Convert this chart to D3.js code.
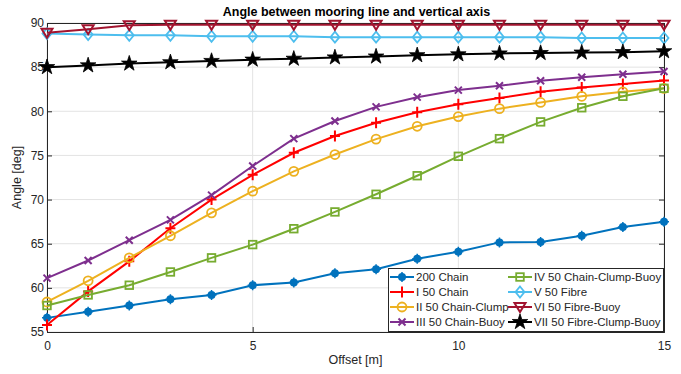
<!DOCTYPE html>
<html>
<head>
<meta charset="utf-8">
<script src="https://cdn.jsdelivr.net/npm/d3@7"></script>
<style>
  html, body { margin: 0; padding: 0; background: #fff; }
  svg text { font-family: "Liberation Sans", Arial, Helvetica, sans-serif; fill: #262626; }
</style>
</head>
<body>
<svg id="chart" width="681" height="374"></svg>
<script>
// Offset positions [m]
const offsets = [0, 1, 2, 3, 4, 5, 6, 7, 8, 9, 10, 11, 12, 13, 14, 15];

// Angle between mooring line and vertical axis [deg], one array per configuration
const chain200        = [56.6, 57.3, 58.0, 58.7, 59.2, 60.3, 60.6, 61.65, 62.1, 63.3, 64.1, 65.15, 65.2, 65.9, 66.9, 67.5];
const chain50         = [55.8, 59.6, 63.0, 66.75, 70.0, 72.8, 75.3, 77.2, 78.7, 79.9, 80.8, 81.5, 82.2, 82.7, 83.1, 83.5];
const chainClump50    = [58.4, 60.8, 63.4, 65.9, 68.5, 70.95, 73.2, 75.1, 76.85, 78.3, 79.4, 80.3, 81.0, 81.7, 82.2, 82.6];
const chainBuoy50     = [61.1, 63.1, 65.4, 67.7, 70.5, 73.8, 76.9, 78.9, 80.5, 81.6, 82.4, 82.9, 83.45, 83.85, 84.2, 84.5];
const chainClumpBuoy50= [58.0, 59.2, 60.3, 61.8, 63.4, 64.9, 66.7, 68.6, 70.6, 72.7, 74.9, 76.9, 78.8, 80.4, 81.7, 82.6];
const fibre50         = [88.8, 88.7, 88.6, 88.6, 88.5, 88.5, 88.5, 88.4, 88.4, 88.4, 88.4, 88.4, 88.4, 88.3, 88.3, 88.3];
const fibreBuoy50     = [88.9, 89.3, 89.75, 89.8, 89.8, 89.8, 89.8, 89.8, 89.8, 89.8, 89.8, 89.8, 89.8, 89.8, 89.8, 89.8];
const fibreClumpBuoy50= [85.0, 85.2, 85.4, 85.55, 85.7, 85.85, 85.95, 86.1, 86.2, 86.35, 86.45, 86.55, 86.6, 86.65, 86.7, 86.8];

const seriesNames = [
  "200 Chain", "I 50 Chain", "II 50 Chain-Clump", "III 50 Chain-Buoy",
  "IV 50 Chain-Clump-Buoy", "V 50 Fibre", "VI 50 Fibre-Buoy", "VII 50 Fibre-Clump-Buoy"
];
const seriesValues = [chain200, chain50, chainClump50, chainBuoy50, chainClumpBuoy50, fibre50, fibreBuoy50, fibreClumpBuoy50];
const seriesColors = ["#0072BD", "#FF0000", "#EDB120", "#7E2F8E", "#77AC30", "#4DBEEE", "#A2142F", "#000000"];
const seriesMarkers = ["dot", "plus", "circle", "cross", "square", "diamond", "triangleDown", "star"];

const xTicks = [0, 5, 10, 15];
const yTicks = [55, 60, 65, 70, 75, 80, 85, 90];

const titleText = "Angle between mooring line and vertical axis";
const xLabel = "Offset [m]";
const yLabel = "Angle [deg]";

const svg = d3.select("#chart");
const margin = { left: 47, top: 23, right: 681 - 664, bottom: 374 - 332 };
const W = 681, H = 374;
const x = d3.scaleLinear().domain([0, 15]).range([margin.left, W - margin.right]);
const y = d3.scaleLinear().domain([55, 90]).range([H - margin.bottom, margin.top]);

// grid
const grid = svg.append("g");
grid.selectAll("line.gx").data(xTicks).join("line")
  .attr("x1", d => x(d)).attr("x2", d => x(d))
  .attr("y1", y(55)).attr("y2", y(90))
  .attr("stroke", "#e3e3e3").attr("stroke-width", 1);
grid.selectAll("line.gy").data(yTicks).join("line")
  .attr("y1", d => y(d)).attr("y2", d => y(d))
  .attr("x1", x(0)).attr("x2", x(15))
  .attr("stroke", "#e3e3e3").attr("stroke-width", 1);

// axes (ticks pointing inward)
const xAxis = svg.append("g").attr("transform", `translate(0,${y(55)})`)
  .call(d3.axisBottom(x).tickValues(xTicks).tickSize(-5).tickPadding(9).tickFormat(d3.format("d")));
const yAxis = svg.append("g").attr("transform", `translate(${x(0)},0)`)
  .call(d3.axisLeft(y).tickValues(yTicks).tickSize(-5).tickPadding(3).tickFormat(d3.format("d")));
const xAxisTop = svg.append("g").attr("transform", `translate(0,${y(90)})`)
  .call(d3.axisTop(x).tickValues(xTicks).tickSize(-5).tickFormat(""));
const yAxisRight = svg.append("g").attr("transform", `translate(${x(15)},0)`)
  .call(d3.axisRight(y).tickValues(yTicks).tickSize(-5).tickFormat(""));
[xAxis, yAxis].forEach(g => {
  g.selectAll("path, line").attr("stroke", "#262626");
  g.selectAll("text").style("font-size", "12px").attr("fill", "#262626");
});
[xAxisTop, yAxisRight].forEach(g => {
  g.selectAll("path, line").attr("stroke", "#262626");
});

// series lines
const line = d3.line().x((d, i) => x(offsets[i])).y(d => y(d));
const plot = svg.append("g");

function drawMarker(g, type, color, cx, cy) {
  switch (type) {
    case "dot":
      g.append("circle").attr("cx", cx).attr("cy", cy).attr("r", 4).attr("fill", color);
      g.append("path").attr("d", `M${cx - 5},${cy}H${cx + 5}M${cx},${cy - 5}V${cy + 5}`)
        .attr("stroke", color).attr("stroke-width", 1.5);
      break;
    case "plus":
      g.append("path").attr("d", `M${cx - 5},${cy}H${cx + 5}M${cx},${cy - 5.5}V${cy + 5.5}`)
        .attr("stroke", color).attr("stroke-width", 2).attr("fill", "none");
      break;
    case "circle":
      g.append("circle").attr("cx", cx).attr("cy", cy).attr("r", 4.5)
        .attr("fill", "none").attr("stroke", color).attr("stroke-width", 1.8);
      break;
    case "cross":
      g.append("path").attr("d", `M${cx - 3.5},${cy - 3.5}L${cx + 3.5},${cy + 3.5}M${cx - 3.5},${cy + 3.5}L${cx + 3.5},${cy - 3.5}`)
        .attr("stroke", color).attr("stroke-width", 2).attr("fill", "none");
      break;
    case "square":
      g.append("rect").attr("x", cx - 3.8).attr("y", cy - 3.8).attr("width", 7.6).attr("height", 7.6)
        .attr("fill", "none").attr("stroke", color).attr("stroke-width", 1.8);
      break;
    case "diamond":
      g.append("path").attr("d", `M${cx},${cy - 5.5}L${cx + 4.5},${cy}L${cx},${cy + 5.5}L${cx - 4.5},${cy}Z`)
        .attr("fill", "none").attr("stroke", color).attr("stroke-width", 1.8);
      break;
    case "triangleDown":
      g.append("path").attr("d", `M${cx - 5.5},${cy - 4}L${cx + 5.5},${cy - 4}L${cx},${cy + 5}Z`)
        .attr("fill", "none").attr("stroke", color).attr("stroke-width", 2);
      break;
    case "star":
      g.append("path").attr("d", d3.symbol().type(d3.symbolStar).size(75)())
        .attr("transform", `translate(${cx},${cy})`).attr("fill", color).attr("stroke", color).attr("stroke-width", 0.8);
      break;
  }
}

seriesValues.forEach((vals, k) => {
  const g = plot.append("g");
  g.append("path").datum(vals).attr("d", line)
    .attr("fill", "none").attr("stroke", seriesColors[k]).attr("stroke-width", 2);
  vals.forEach((v, i) => drawMarker(g, seriesMarkers[k], seriesColors[k], x(offsets[i]), y(v)));
});

// titles
svg.append("text").attr("x", (x(0) + x(15)) / 2 + 1).attr("y", 16)
  .attr("text-anchor", "middle").style("font-size", "12.5px").style("font-weight", "bold")
  .style("fill", "#000").text(titleText);
svg.append("text").attr("x", (x(0) + x(15)) / 2).attr("y", 364)
  .attr("text-anchor", "middle").style("font-size", "12.5px").text(xLabel);
svg.append("text").attr("transform", `translate(21,${(y(55) + y(90)) / 2}) rotate(-90)`)
  .attr("text-anchor", "middle").style("font-size", "12.5px").text(yLabel);

// legend
const legend = svg.append("g");
const lx0 = 388, ly0 = 268, lw = 275, lh = 63;
legend.append("rect").attr("x", lx0 + 0.5).attr("y", ly0 + 0.5).attr("width", lw).attr("height", lh)
  .attr("fill", "#fff").attr("stroke", "#262626").attr("stroke-width", 1);
const colX = [lx0 + 2, lx0 + 120];
seriesNames.forEach((name, k) => {
  const col = Math.floor(k / 4), row = k % 4;
  const cy = ly0 + 9 + row * 15;
  const sx = colX[col];
  const lg = legend.append("g");
  lg.append("line").attr("x1", sx).attr("x2", sx + 24).attr("y1", cy).attr("y2", cy)
    .attr("stroke", seriesColors[k]).attr("stroke-width", 2);
  drawMarker(lg, seriesMarkers[k], seriesColors[k], sx + 12, cy);
  lg.append("text").attr("x", sx + 26).attr("y", cy + 4).style("font-size", "11.5px").text(name);
});
</script>
</body>
</html>
